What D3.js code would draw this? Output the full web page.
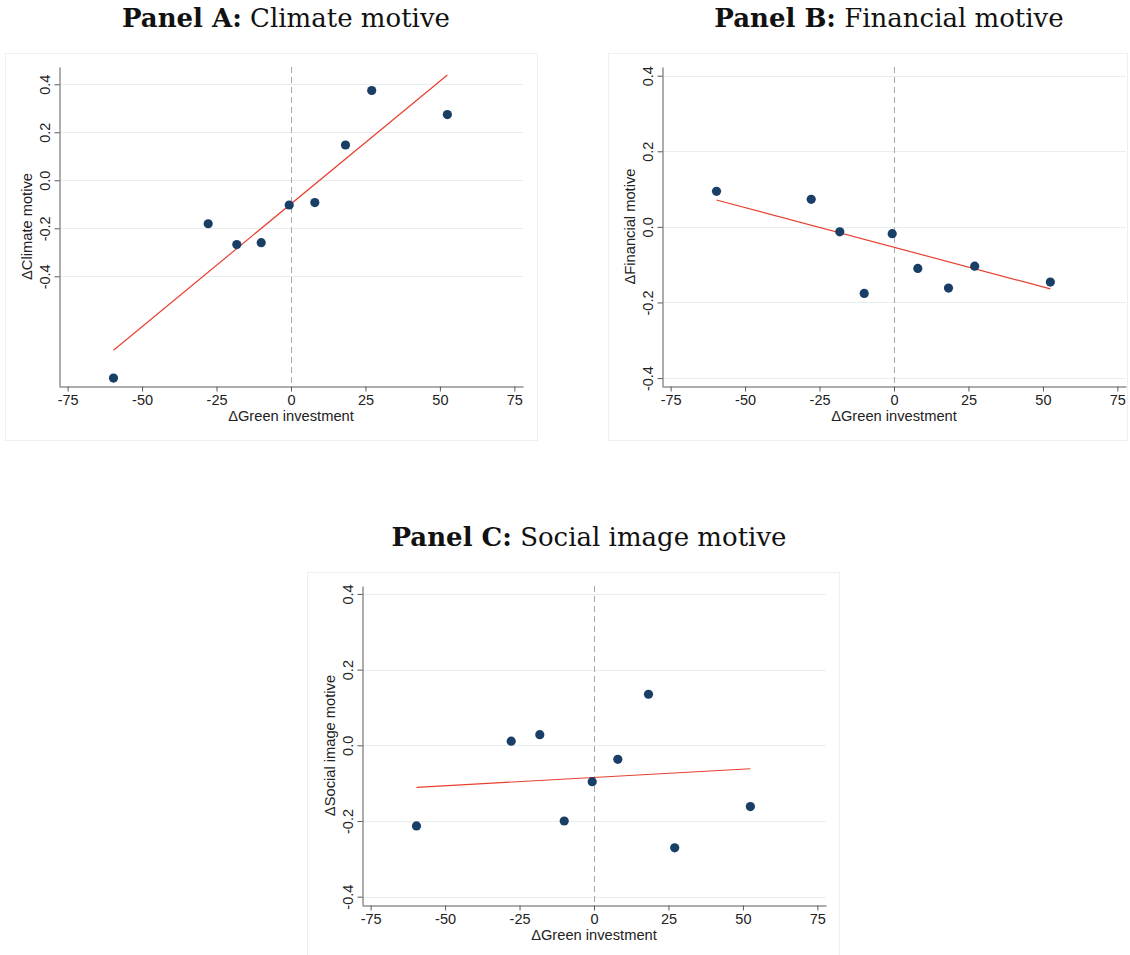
<!DOCTYPE html>
<html>
<head>
<meta charset="utf-8">
<script src="https://cdn.jsdelivr.net/npm/d3@7"></script>
<style>
  body {margin: 0; background: #ffffff;}
  svg {display: block;}
  .tick text {font-family: "Liberation Sans", Arial, sans-serif; font-size: 14.5px; fill: #222222;}
  .axTitle {font-family: "Liberation Sans", Arial, sans-serif; font-size: 14.7px; fill: #222222;}
  .panelTitle {font-family: "DejaVu Serif", serif; font-size: 26px; fill: #111111;}
</style>
</head>
<body>
<svg id="chart"></svg>
<script>

//data//

var greenInvestment = [-59.6, -27.8, -18.2, -10.0, -0.6, 8.0, 18.3, 27.1, 52.5];
var climateMotive   = [-0.824, -0.181, -0.268, -0.260, -0.103, -0.093, 0.147, 0.374, 0.274];
var financialMotive = [0.094, 0.073, -0.013, -0.176, -0.018, -0.110, -0.162, -0.104, -0.146];
var socialMotive    = [-0.213, 0.011, 0.028, -0.200, -0.096, -0.037, 0.135, -0.271, -0.162];

//fitted line end points (x, then y for each panel)//
var fitX         = [-59.6, 52.5];
var climateFit   = [-0.708, 0.439];
var financialFit = [0.071, -0.164];
var socialFit    = [-0.111, -0.062];

var xTicks = [-75, -50, -25, 0, 25, 50, 75];
var yTicks = [-0.4, -0.2, 0.0, 0.2, 0.4];

var panelLetters = ["A", "B", "C"];
var panelNames   = ["Climate motive", "Financial motive", "Social image motive"];
var yTitles      = ["\u0394Climate motive", "\u0394Financial motive", "\u0394Social image motive"];
var xTitle       = "\u0394Green investment";

//layout of each panel, in page pixels//

var screen = {width: 1130, height: 955}

var layout = [
  {frame: [5, 53, 532, 387],   plot: {left: 59,  right: 523,  top: 67,  bottom: 386}, yDomain: [-0.857, 0.472], titleY: 27},
  {frame: [608, 53, 519, 387], plot: {left: 662, right: 1126, top: 67,  bottom: 386}, yDomain: [-0.421, 0.423], titleY: 27},
  {frame: [307, 572, 532, 390], plot: {left: 362, right: 826,  top: 586, bottom: 905}, yDomain: [-0.422, 0.421], titleY: 546}
]

var series = [climateMotive, financialMotive, socialMotive];
var fits   = [climateFit, financialFit, socialFit];

var svg = d3.select("#chart")
            .attr("width", screen.width)
            .attr("height", screen.height)

var fmtY = function(d) { return d.toFixed(1); }

var drawPanel = function(i)
  {
  var L = layout[i];
  var p = L.plot;

  var xScale = d3.scaleLinear()
                 .domain([-77.9, 77.9])
                 .range([p.left, p.right])
  var yScale = d3.scaleLinear()
                 .domain(L.yDomain)
                 .range([p.bottom, p.top])

  var g = svg.append("g").attr("class", "panel")

  //faint frame round the graph region//
  g.append("rect")
   .attr("x", L.frame[0] + 0.5)
   .attr("y", L.frame[1] + 0.5)
   .attr("width", L.frame[2])
   .attr("height", L.frame[3])
   .attr("fill", "none")
   .attr("stroke", "#efefef")

  //horizontal grid lines//
  g.selectAll("line.grid")
   .data(yTicks)
   .enter()
   .append("line")
   .attr("class", "grid")
   .attr("x1", p.left)
   .attr("x2", p.right)
   .attr("y1", function(d) { return Math.round(yScale(d)) + 0.5; })
   .attr("y2", function(d) { return Math.round(yScale(d)) + 0.5; })
   .attr("stroke", "#e6eeee")
   .attr("stroke-width", 1)

  //dashed line at zero investment//
  g.append("line")
   .attr("x1", Math.round(xScale(0)) + 0.5)
   .attr("x2", Math.round(xScale(0)) + 0.5)
   .attr("y1", p.top)
   .attr("y2", p.bottom)
   .attr("stroke", "#a8a8a8")
   .attr("stroke-dasharray", "6,4")

  //axes//
  var xAxis = d3.axisBottom(xScale)
                .tickValues(xTicks)
                .tickSize(5)
                .tickSizeOuter(0)
                .tickPadding(3)
                .tickFormat(function(d) { return String(d); })
  var yAxis = d3.axisLeft(yScale)
                .tickValues(yTicks)
                .tickSize(5)
                .tickSizeOuter(0)
                .tickFormat(fmtY)

  var gx = g.append("g")
            .attr("transform", "translate(0," + (p.bottom + 0.5) + ")")
            .call(xAxis)
  var gy = g.append("g")
            .attr("transform", "translate(" + (p.left + 0.5) + ",0)")
            .call(yAxis)

  gx.select(".domain").attr("stroke", "#5a5a5a")
  gy.select(".domain").attr("stroke", "#5a5a5a")
  gx.selectAll(".tick line").attr("stroke", "#5a5a5a")
  gy.selectAll(".tick line").attr("stroke", "#5a5a5a")

  //y labels stand on their side like in Stata//
  gy.selectAll(".tick text")
    .attr("x", null)
    .attr("dy", null)
    .attr("text-anchor", "middle")
    .attr("transform", "translate(-10,0) rotate(-90)")

  //axis titles//
  g.append("text")
   .attr("class", "axTitle")
   .attr("x", (p.left + p.right) / 2)
   .attr("y", p.bottom + 35)
   .attr("text-anchor", "middle")
   .text(xTitle)

  g.append("text")
   .attr("class", "axTitle")
   .attr("transform", "translate(" + (p.left - 27) + "," + ((p.top + p.bottom) / 2) + ") rotate(-90)")
   .attr("text-anchor", "middle")
   .text(yTitles[i])

  //fitted line//
  var line = d3.line()
               .x(function(d) { return xScale(d[0]); })
               .y(function(d) { return yScale(d[1]); })
  g.append("path")
   .datum(d3.zip(fitX, fits[i]))
   .attr("d", line)
   .attr("fill", "none")
   .attr("stroke", "#e8402f")
   .attr("stroke-width", 1.2)

  //bin means//
  g.selectAll("circle")
   .data(d3.zip(greenInvestment, series[i]))
   .enter()
   .append("circle")
   .attr("cx", function(d) { return xScale(d[0]); })
   .attr("cy", function(d) { return yScale(d[1]); })
   .attr("r", 4.6)
   .attr("fill", "#1a3f66")

  //panel heading//
  var t = g.append("text")
           .attr("class", "panelTitle")
           .attr("x", (p.left + p.right) / 2 - 5)
           .attr("y", L.titleY)
           .attr("text-anchor", "middle")
  t.append("tspan").attr("font-weight", "bold").text("Panel " + panelLetters[i] + ":")
  t.append("tspan").text(" " + panelNames[i])
  }

drawPanel(0)
drawPanel(1)
drawPanel(2)

</script>
</body>
</html>
